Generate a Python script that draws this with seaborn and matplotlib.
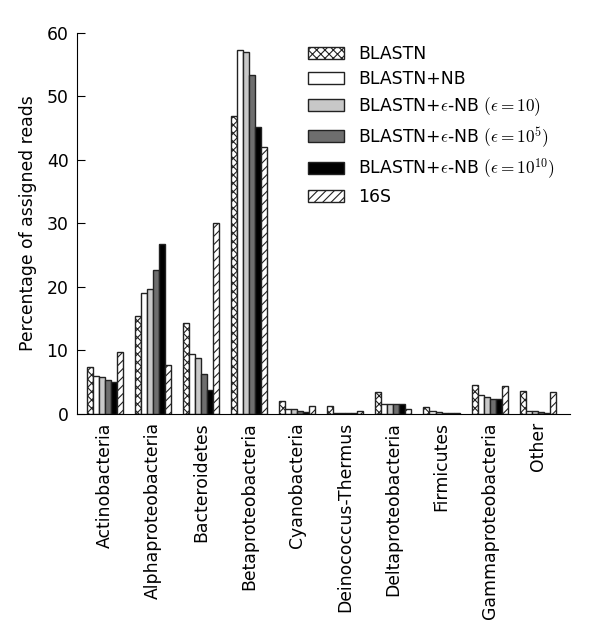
import matplotlib
matplotlib.use('Agg')
import matplotlib.pyplot as plt
import pandas as pd
import seaborn as sns

categories = ['Actinobacteria', 'Alphaproteobacteria', 'Bacteroidetes', 'Betaproteobacteria',
              'Cyanobacteria', 'Deinococcus-Thermus', 'Deltaproteobacteria', 'Firmicutes',
              'Gammaproteobacteria', 'Other']
methods = ['BLASTN', 'BLASTN+NB',
           r'BLASTN+$\epsilon$-NB $(\epsilon=10)$',
           r'BLASTN+$\epsilon$-NB $(\epsilon=10^5)$',
           r'BLASTN+$\epsilon$-NB $(\epsilon=10^{10})$',
           '16S']

blastn = [7.3, 15.4, 14.3, 46.9, 2.0, 1.3, 3.4, 1.1, 4.6, 3.6]
blastn_nb = [5.9, 19.1, 9.4, 57.3, 0.7, 0.2, 1.5, 0.4, 2.9, 0.5]
eps_10 = [5.8, 19.7, 8.8, 56.9, 0.7, 0.2, 1.5, 0.3, 2.7, 0.4]
eps_1e5 = [5.4, 22.6, 6.2, 53.4, 0.5, 0.1, 1.5, 0.2, 2.4, 0.3]
eps_1e10 = [5.0, 26.7, 3.8, 45.2, 0.3, 0.1, 1.5, 0.1, 2.4, 0.2]
s16 = [9.8, 7.7, 30.0, 42.0, 1.2, 0.5, 0.8, 0.1, 4.4, 3.5]

colors = ['white', 'white', '#c8c8c8', '#6e6e6e', 'black', 'white']
hatches = ['xxxx', '', '', '', '', '////']

series = [blastn, blastn_nb, eps_10, eps_1e5, eps_1e10, s16]
rows = []
for m, vals in zip(methods, series):
    for c, v in zip(categories, vals):
        rows.append((c, m, v))
df = pd.DataFrame(rows, columns=['Phylum', 'Method', 'Percent'])

sns.set_style('ticks')
plt.rcParams['font.family'] = ['DejaVu Sans']
plt.rcParams['mathtext.fontset'] = 'cm'
plt.rcParams['hatch.linewidth'] = 0.8
for key in ['text.color', 'axes.labelcolor', 'xtick.color', 'ytick.color', 'axes.edgecolor']:
    plt.rcParams[key] = 'black'

fs = 12.4

fig = plt.figure(figsize=(6, 6.28), dpi=100)
ax = fig.add_axes([0.128, 0.341, 0.822, 0.607])

sns.barplot(data=df, x='Phylum', y='Percent', hue='Method', order=categories,
            hue_order=methods, palette=colors, width=0.75, gap=0,
            edgecolor='#222222', linewidth=1.0, saturation=1, legend=False, ax=ax)

for cont, h in zip(ax.containers, hatches):
    for p in cont.patches:
        p.set_hatch(h)

ax.set_ylim(0, 60)
ax.set_xlim(-0.58, 9.67)
ax.set_yticks([0, 10, 20, 30, 40, 50, 60])
ax.tick_params(axis='y', direction='in', length=6, labelsize=fs, pad=6)
ax.tick_params(axis='x', length=0, labelsize=fs, pad=6)
ax.set_xticks(range(len(categories)))
ax.set_xticklabels(categories, rotation=90)
ax.set_xlabel('')
ax.set_ylabel('Percentage of assigned reads', fontsize=fs, labelpad=7)
sns.despine(ax=ax)

ax.legend(handles=ax.containers, labels=methods, loc='upper left',
          bbox_to_anchor=(0.455, 0.985), frameon=False, fontsize=fs,
          handlelength=2.1, handleheight=0.7, handletextpad=0.8,
          labelspacing=0.4, borderaxespad=0)

fig.savefig('out.png', dpi=100)
